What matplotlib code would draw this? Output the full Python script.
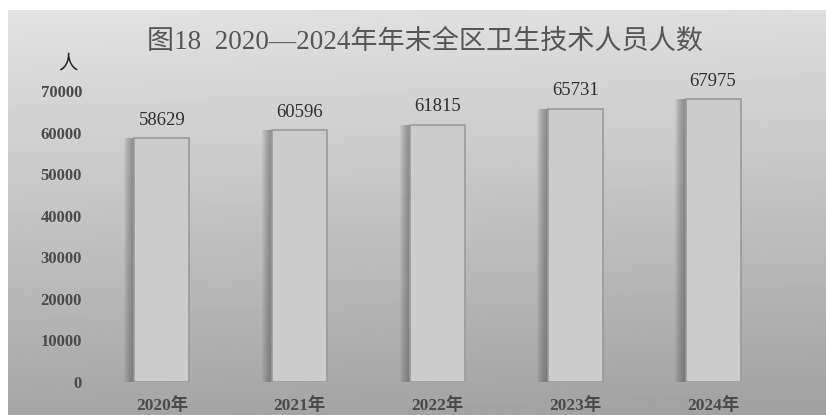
import numpy as np
import matplotlib
matplotlib.use("Agg")
import matplotlib.pyplot as plt

years = ["2020年", "2021年", "2022年", "2023年", "2024年"]
staff = [58629, 60596, 61815, 65731, 67975]
yticks = [0, 10000, 20000, 30000, 40000, 50000, 60000, 70000]

TITLE = "图18  2020—2024年年末全区卫生技术人员人数"
SERIF = ["Liberation Serif", "Noto Sans CJK SC"]
CJK = ["Noto Sans CJK SC", "DejaVu Sans"]

fig = plt.figure(figsize=(8.26, 4.15), dpi=100, facecolor="white")

# grey gradient panel behind the chart
bg = fig.add_axes([8 / 826, 0, 1 - 8 / 826, 1 - 10 / 415], zorder=-10)
ny, nx = 200, 300
yy, xx = np.mgrid[0:1:ny * 1j, 0:1:nx * 1j]
shade = 0.89 - 0.24 * yy - 0.02 * xx
bg.imshow(shade, cmap="gray", vmin=0, vmax=1, aspect="auto",
          extent=(0, 1, 1, 0), interpolation="bilinear")
bg.set_axis_off()

ax = fig.add_axes([93 / 826, 33 / 415, 689 / 826, 291 / 415])
ax.patch.set_alpha(0)
x = np.arange(len(years))

# soft shadow on the left side of each bar
for k in np.linspace(0.075, 0.01, 10):
    ax.bar(x - k, staff, width=0.4, bottom=0, color="#555555", alpha=0.07,
           linewidth=0, zorder=1)
ax.bar(x, staff, width=0.4, color="#cccccc", edgecolor="#9a9a9a",
       linewidth=1.2, zorder=2)

for xi, v in zip(x, staff):
    ax.text(xi, v + 2300, str(v), ha="center", va="bottom",
            fontsize=13.5, family=SERIF, color="#2e2e2e", clip_on=False)

ax.set_xlim(-0.5, len(years) - 0.5)
ax.set_ylim(0, 70000)
ax.set_xticks(x)
ax.set_xticklabels(years)
ax.set_yticks(yticks)
ax.set_yticklabels([str(t) for t in yticks])
for lab in ax.get_xticklabels():
    lab.set_family(SERIF)
    lab.set_fontsize(12.5)
    lab.set_fontweight("bold")
    lab.set_color("#4a4a4a")
for lab in ax.get_yticklabels():
    lab.set_family(SERIF)
    lab.set_fontsize(12)
    lab.set_fontweight("bold")
    lab.set_color("#4a4a4a")
ax.tick_params(axis="y", length=0, pad=8)
ax.tick_params(axis="x", length=0, pad=11)
for s in ax.spines.values():
    s.set_visible(False)

fig.text(68 / 826, 1 - 63 / 415, "人", family=CJK, fontsize=14,
         color="#222222", ha="center", va="center")
fig.text(425 / 826, 1 - 42 / 415, TITLE, family=SERIF, fontsize=19.5,
         color="#555555", ha="center", va="center")

fig.savefig("out.png", dpi=100, facecolor="white")
